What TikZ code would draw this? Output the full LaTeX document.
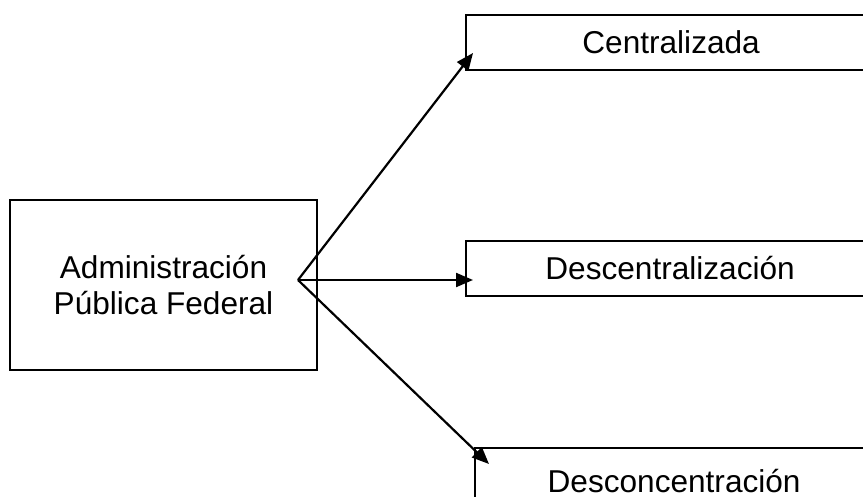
\documentclass[tikz,border=0pt]{standalone}
\usepackage{fontspec}
\setmainfont{Liberation Sans}
\usetikzlibrary{arrows.meta}

\begin{document}
\begin{tikzpicture}[x=0.5pt,y=-0.5pt,
  caja/.style={draw,line width=1.1pt,inner sep=0pt,align=center,
    font=\fontsize{15.8}{18.3}\selectfont},
  flecha/.style={line width=1.1pt,-{Triangle[length=8.5pt,width=7pt]}}]
\clip (0,0) rectangle (863,497);

\draw (163.5,285) node (apf) [caja,minimum width=153.5pt,minimum height=85pt] {Administración\\Pública Federal};

\draw (465,42.5)  node (cent)    [caja,anchor=west,minimum width=205pt,minimum height=27.5pt] {Centralizada};
\draw (465,268.5) node (descent) [caja,anchor=west,minimum width=204pt,minimum height=27.5pt] {Descentralización};
\draw (474,447)   node (descon)  [caja,anchor=north west,minimum width=199pt,minimum height=33pt] {Desconcentración};

\coordinate (org) at (298,280);
\coordinate (tipc) at (473,53);
\coordinate (tipd) at (473,280);
\coordinate (tipe) at (489,464);
\draw[flecha] (org) -- (tipc);
\draw[flecha] (org) -- (tipd);
\draw[flecha] (org) -- (tipe);
\end{tikzpicture}
\end{document}
